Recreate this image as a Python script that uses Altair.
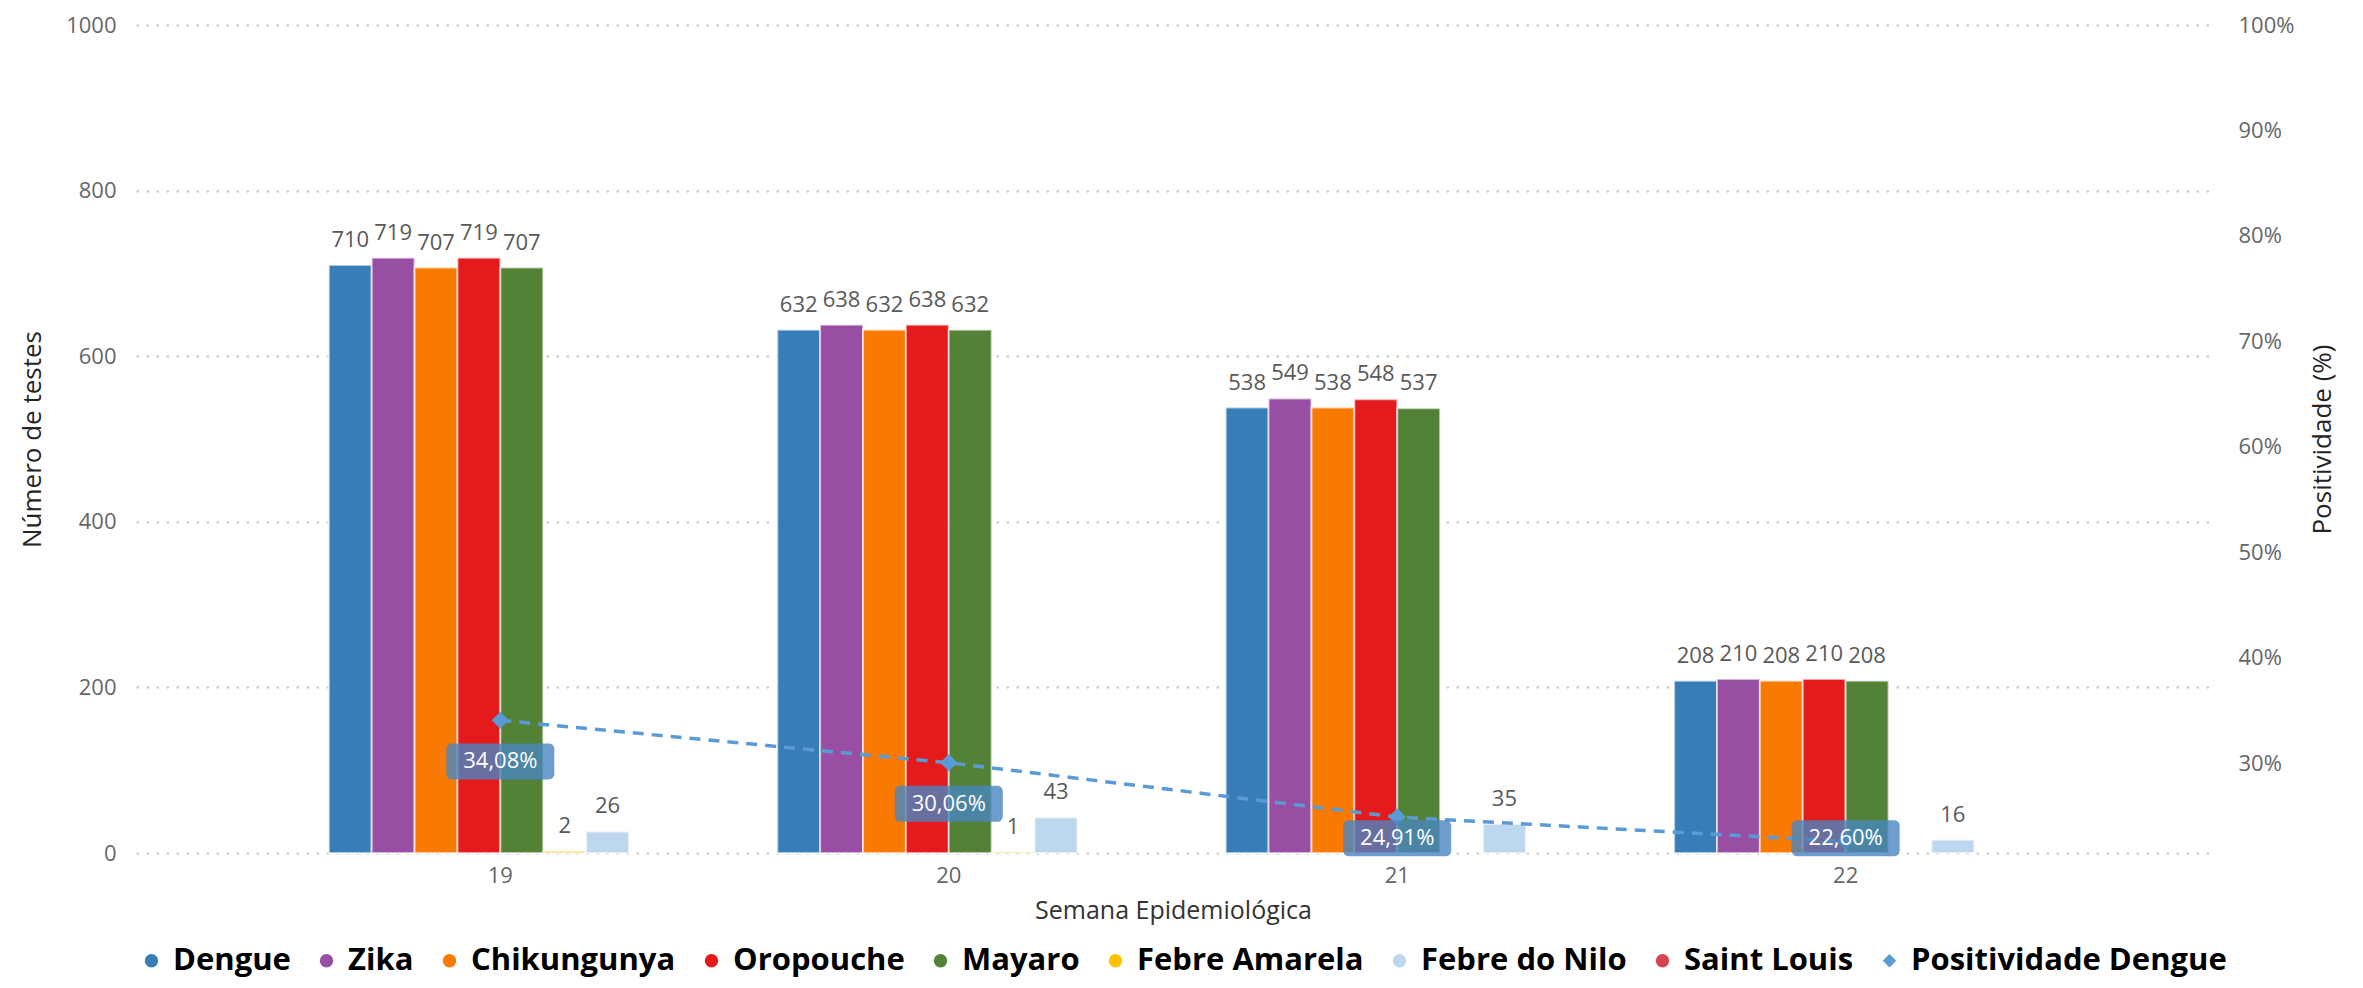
import altair as alt
import pandas as pd

# ---------------- data ----------------
semanas = ["19", "20", "21", "22"]
series = ["Dengue", "Zika", "Chikungunya", "Oropouche", "Mayaro",
          "Febre Amarela", "Febre do Nilo", "Saint Louis"]
dengue = [710, 632, 538, 208]
zika = [719, 638, 549, 210]
chikungunya = [707, 632, 538, 208]
oropouche = [719, 638, 548, 210]
mayaro = [707, 632, 537, 208]
febre_amarela = [2, 1, None, None]
febre_nilo = [26, 43, 35, 16]
saint_louis = [None, None, None, None]
positividade = [0.3408, 0.3006, 0.2491, 0.2260]

legend_names = series + ["Positividade Dengue"]
colors = ["#377eb8", "#984ea3", "#f97a03", "#e41a1c", "#538135",
          "#ffc000", "#bdd7ee", "#d64550", "#5b9bd5"]
shapes = ["circle"] * 8 + ["diamond"]

values_by_series = [dengue, zika, chikungunya, oropouche, mayaro,
                    febre_amarela, febre_nilo, saint_louis]
rows = []
for name, vals in zip(series, values_by_series):
    for s, v in zip(semanas, vals):
        rows.append({"semana": s, "serie": name, "valor": v})
df_bars = pd.DataFrame(rows)
df_pos = pd.DataFrame({"semana": semanas, "positividade": positividade,
                       "serie": ["Positividade Dengue"] * len(semanas)})

FONT = "Open Sans"

xscale = alt.Scale(domain=semanas, paddingInner=0.235, paddingOuter=0.43)
x_enc = alt.X("semana:N", sort=semanas, scale=xscale,
              axis=alt.Axis(title="Semana Epidemiológica", labelAngle=0,
                            labelFontSize=22, labelColor="#666666", labelFont=FONT,
                            labelPadding=12, domain=False, ticks=False, grid=False,
                            titleFontSize=25, titleFont=FONT, titleColor="#333333",
                            titleFontWeight="normal", titlePadding=12))

yscale_l = alt.Scale(domain=[0, 1000], nice=False)
y_axis_l = alt.Axis(title="Número de testes", values=[0, 200, 400, 600, 800, 1000],
                    format="d",
                    labelFontSize=22, labelColor="#666666", labelFont=FONT,
                    labelPadding=20, domain=False, ticks=False,
                    grid=True, gridColor="#c8c8c8", gridDash=[2.5, 7.5], gridWidth=2,
                    titleFontSize=26, titleFont=FONT, titleColor="#252423",
                    titleFontWeight="normal", titlePadding=20)

yscale_r = alt.Scale(domain=[0.215, 1.0], nice=False, zero=False)
y_axis_r = alt.Axis(title="Positividade (%)", orient="right", format="%",
                    values=[0.3, 0.4, 0.5, 0.6, 0.7, 0.8, 0.9, 1.0],
                    labelFontSize=22, labelColor="#666666", labelFont=FONT,
                    labelPadding=28, domain=False, ticks=False, grid=False,
                    titleFontSize=26, titleFont=FONT, titleColor="#252423",
                    titleFontWeight="normal", titlePadding=16, titleAngle=270,
                    titleBaseline="top")

legend_def = alt.Legend(
    title=None, orient="bottom", direction="horizontal",
    labelFontSize=31, labelFont=FONT, labelFontWeight="bold", labelColor="black",
    symbolSize=180, symbolStrokeWidth=0,
    columnPadding=20, labelOffset=6, labelLimit=0, offset=22, padding=0,
)
color_enc = alt.Color("serie:N", scale=alt.Scale(domain=legend_names, range=colors),
                      legend=legend_def)
shape_enc = alt.Shape("serie:N", scale=alt.Scale(domain=legend_names, range=shapes),
                      legend=legend_def)

xoff_enc = alt.XOffset("serie:N", sort=series,
                       scale=alt.Scale(domain=series, paddingInner=0, paddingOuter=0))

bars = alt.Chart(df_bars).mark_bar(stroke="white", strokeWidth=2, strokeOpacity=0.6).encode(
    x=x_enc,
    xOffset=xoff_enc,
    y=alt.Y("valor:Q", scale=yscale_l, axis=y_axis_l),
    color=color_enc,
)

bar_text = alt.Chart(df_bars).transform_filter("isValid(datum.valor)").mark_text(
    baseline="alphabetic", dy=-18, fontSize=22, font=FONT, color="#595959"
).encode(
    x=x_enc,
    xOffset=xoff_enc,
    y=alt.Y("valor:Q", scale=yscale_l, axis=y_axis_l),
    text=alt.Text("valor:Q", format="d"),
)

bar_group = alt.layer(bars, bar_text)

box_path = ("M-2.7,-1 H2.7 A0.3,0.3 0 0 1 3,-0.7 V0.7 A0.3,0.3 0 0 1 2.7,1 "
            "H-2.7 A0.3,0.3 0 0 1 -3,0.7 V-0.7 A0.3,0.3 0 0 1 -2.7,-1 Z")

line_base = alt.Chart(df_pos).transform_calculate(
    label_y="max(datum.positividade - 0.039, 0.229)",
    label_txt="replace(format(datum.positividade, '.2%'), '.', ',')",
)

y_pos = alt.Y("positividade:Q", scale=yscale_r, axis=y_axis_r)
y_lab = alt.Y("label_y:Q", scale=yscale_r, axis=y_axis_r)

line = line_base.mark_line(color="#5b9bd5", strokeWidth=3.5, strokeDash=[11, 8]).encode(
    x=x_enc, y=y_pos)
points = line_base.mark_point(filled=True, size=300, opacity=1).encode(
    x=x_enc, y=y_pos, color=color_enc, shape=shape_enc)
boxes = line_base.mark_point(shape=box_path, filled=True, size=1296, color="#4a86c0",
                             opacity=0.8, strokeWidth=0).encode(x=x_enc, y=y_lab)
box_text = line_base.mark_text(color="white", fontSize=22, font=FONT,
                               baseline="middle").encode(
    x=x_enc, y=y_lab, text="label_txt:N")

line_group = alt.layer(line, points, boxes, box_text)

chart = alt.layer(bar_group, line_group).resolve_scale(y="independent").properties(
    width=2074, height=828,
    padding={"left": 11, "top": 6, "right": 8, "bottom": 6},
    background="white",
).configure_view(stroke=None)

chart.save("out.html", embed_options={"renderer": "svg", "actions": False})
